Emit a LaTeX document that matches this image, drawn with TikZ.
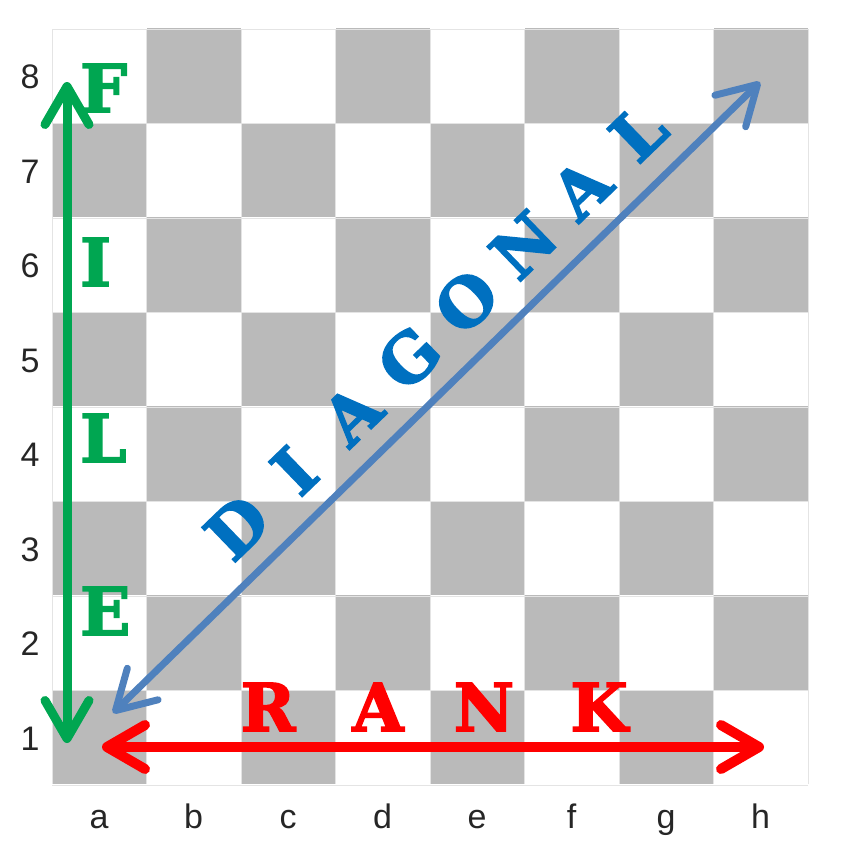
\documentclass[tikz,border=0pt]{standalone}
\usepackage{fontspec}
\setmainfont{Liberation Sans}
\newfontfamily\posterfont{DejaVu Serif}[FakeBold=2.5]
\usetikzlibrary{arrows.meta}
\definecolor{boardGray}{HTML}{BABABA}
\definecolor{gridGray} {HTML}{E4E4E4}
\definecolor{fileGreen}{HTML}{00A651}
\definecolor{diagBlue} {HTML}{4F81BD}
\definecolor{diagText} {HTML}{0070C0}
\definecolor{rankRed}  {HTML}{FF0000}
\tikzset{
  coordlabel/.style={font=\fontsize{34}{34}\selectfont,text=black!85,inner sep=0pt},
  fatletter/.style={font=\posterfont\bfseries\fontsize{66}{66}\selectfont,inner sep=0pt},
  barb/.tip={Straight Barb[round,length=38pt,width=44pt]},
  twoway/.style={barb-barb,line cap=round},
  filearrow/.style={twoway,draw=fileGreen,line width=9pt},
  rankarrow/.style={twoway,draw=rankRed,line width=10pt},
  diagarrow/.style={twoway,draw=diagBlue,line width=7pt},
}

\begin{document}
\begin{tikzpicture}[x=1pt,y=-1pt]

\useasboundingbox (0,0) rectangle (866,857);

% board, a1 dark
\foreach \c in {0,...,7}
  \foreach \r in {1,...,8}{
    \pgfmathtruncatemacro{\odd}{mod(\c+\r,2)}
    \ifnum\odd=1
      \fill[boardGray] ({52+94.5*\c},{784-94.5*\r}) rectangle ++(94.5,94.5);
    \fi
  }
\foreach \k in {0,...,8}{
  \draw[gridGray,line width=1pt] ({52+94.5*\k},29) -- ({52+94.5*\k},784);
  \draw[gridGray,line width=1pt] (52,{29+94.5*\k}) -- (808,{29+94.5*\k});
}

% ranks and files
\foreach \r in {1,...,8}
  \node[coordlabel] (rank\r) at (30,{784-94.5*\r+49}) {\r};
\foreach \f [count=\c from 0] in {a,b,c,d,e,f,g,h}
  \node[coordlabel,anchor=base] (file\f) at ({99+94.5*\c},828) {\f};

% file
\coordinate (fileTop) at (67,82);
\coordinate (fileBot) at (67,743);
\draw[filearrow] (fileBot) -- (fileTop);
\foreach \ch/\y in {F/88,I/262,L/438,E/611}
  \node[fatletter,text=fileGreen,anchor=west] (file\ch) at (80,\y) {\ch};

% rank
\coordinate (rankLeft) at (102,747);
\coordinate (rankRight) at (764,747);
\draw[rankarrow] (rankLeft) -- (rankRight);
\foreach \ch/\x in {R/268,A/378,N/484,K/599}
  \node[fatletter,text=rankRed] (rank\ch) at (\x,707) {\ch};

% diagonal
\coordinate (diagLow) at (113,713);
\coordinate (diagHigh) at (760,82);
\draw[diagarrow] (diagLow) -- (diagHigh);
\foreach \ch [count=\i from 0] in {D,I,A,G,O,N,A,L}
  \node[fatletter,text=diagText,rotate=44] (diag\i) at ({237+57.3*\i},{527-56.4*\i}) {\ch};

\end{tikzpicture}
\end{document}
